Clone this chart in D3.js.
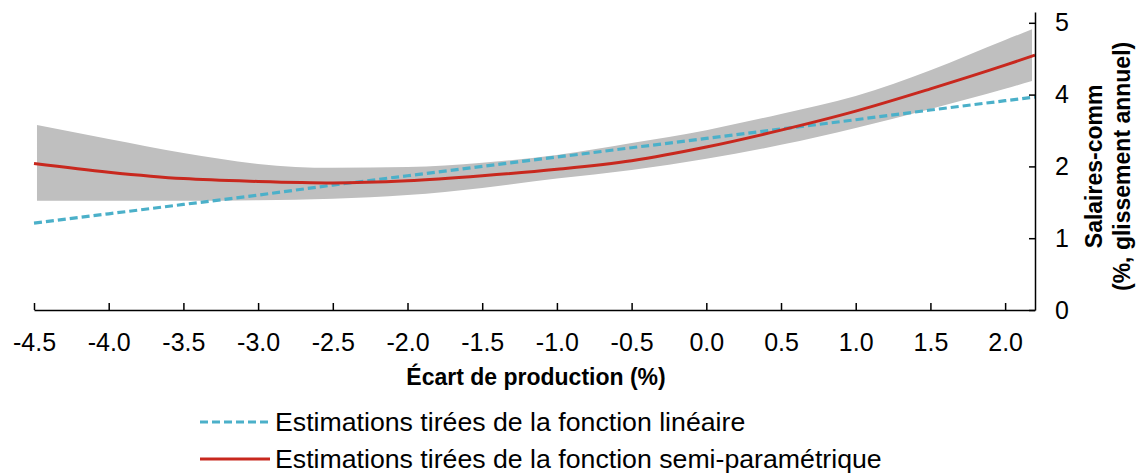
<!DOCTYPE html>
<html>
<head>
<meta charset="utf-8">
<script src="https://cdn.jsdelivr.net/npm/d3@7"></script>
<style>
  body { margin: 0; background: #fff; }
  text { font-family: "Liberation Sans", Arial, sans-serif; fill: #000; }
</style>
</head>
<body>
<svg id="chart" width="1139" height="475"></svg>
<script>
// x positions (output gap, %)
const xGrid = [-4.5, -4.0, -3.5, -3.0, -2.5, -2.0, -1.5, -1.0, -0.5, 0.0, 0.5, 1.0, 1.5, 2.0, 2.2];
// linear fit
const linearFit = [1.21, 1.34, 1.47, 1.60, 1.74, 1.87, 2.00, 2.26, 2.52, 2.78, 3.04, 3.30, 3.57, 3.83, 3.93];
// semi-parametric fit
const semiFit = [2.08, 1.92, 1.83, 1.79, 1.77, 1.80, 1.87, 1.96, 2.16, 2.54, 3.01, 3.54, 4.08, 4.41, 4.55];
// confidence band
const bandX = [-4.48, -4.0, -3.5, -3.0, -2.5, -2.0, -1.5, -1.0, -0.5, 0.0, 0.5, 1.0, 1.5, 2.0, 2.18];
const bandLow = [1.52, 1.52, 1.52, 1.53, 1.55, 1.60, 1.70, 1.83, 1.95, 2.21, 2.60, 3.07, 3.60, 4.08, 4.19];
const bandHigh = [3.15, 2.76, 2.37, 2.07, 1.98, 1.99, 2.10, 2.32, 2.65, 3.01, 3.46, 3.96, 4.34, 4.76, 4.91];

const xTicks = [-4.5, -4.0, -3.5, -3.0, -2.5, -2.0, -1.5, -1.0, -0.5, 0.0, 0.5, 1.0, 1.5, 2.0];
const yTicks = [0, 1, 2, 4, 5];
const xTitle = "Écart de production (%)";
const yTitle = ["Salaires-comm", "(%, glissement annuel)"];
const legendLabels = [
  "Estimations tirées de la fonction linéaire",
  "Estimations tirées de la fonction semi-paramétrique"
];

const red = "#c8281e", blue = "#4bb0c9", grey = "#bfbfbf";

const svg = d3.select("#chart");
const plotLeft = 34, plotRight = 1035, plotTop = 22.8, plotBottom = 310;
const step = (plotBottom - plotTop) / (yTicks.length - 1);

const x = d3.scaleLinear().domain([-4.5, 2.2]).range([plotLeft, plotRight]);
// tick labels are evenly spaced on the axis, so the scale is piecewise
const y = d3.scaleLinear()
  .domain(yTicks.concat([5.15]))
  .range(yTicks.map((d, i) => plotBottom - i * step).concat([12]));

// band
const band = bandX.map((d, i) => ({x: d, lo: bandLow[i], hi: bandHigh[i]}));
svg.append("path")
  .datum(band)
  .attr("fill", grey)
  .attr("d", d3.area().curve(d3.curveMonotoneX)
    .x(d => x(d.x)).y0(d => y(d.lo)).y1(d => y(d.hi)));

// lines
svg.append("path")
  .datum(xGrid.map((d, i) => [d, linearFit[i]]))
  .attr("fill", "none")
  .attr("stroke", blue)
  .attr("stroke-width", 3.2)
  .attr("stroke-dasharray", "8,4")
  .attr("d", d3.line().x(d => x(d[0])).y(d => y(d[1])));

svg.append("path")
  .datum(xGrid.map((d, i) => [d, semiFit[i]]))
  .attr("fill", "none")
  .attr("stroke", red)
  .attr("stroke-width", 3)
  .attr("d", d3.line().curve(d3.curveMonotoneX).x(d => x(d[0])).y(d => y(d[1])));

// x axis
const gx = svg.append("g")
  .attr("transform", `translate(0,${plotBottom})`)
  .call(d3.axisBottom(x).tickValues(xTicks).tickFormat(d => d.toFixed(1))
    .tickSizeInner(-7).tickSizeOuter(0).tickPadding(23));
gx.selectAll("text").attr("font-size", 25).attr("font-family", null);
gx.selectAll("line, path").attr("stroke", "#000").attr("stroke-width", 1.5);

// y axis (right)
const gy = svg.append("g")
  .attr("transform", `translate(${plotRight},0)`)
  .call(d3.axisRight(y).tickValues(yTicks).tickFormat(d => d)
    .tickSizeInner(-6).tickSizeOuter(0).tickPadding(20));
gy.selectAll("text").attr("font-size", 25).attr("font-family", null);
gy.selectAll("line, path").attr("stroke", "#000").attr("stroke-width", 1.5);

// titles
svg.append("text")
  .attr("x", 536).attr("y", 385)
  .attr("text-anchor", "middle")
  .attr("font-size", 23).attr("font-weight", "bold")
  .text(xTitle);

svg.selectAll(".ytitle").data(yTitle).join("text")
  .attr("class", "ytitle")
  .attr("transform", (d, i) => `translate(${1102 + i * 28},${(plotTop + plotBottom) / 2}) rotate(-90)`)
  .attr("text-anchor", "middle")
  .attr("font-size", 23).attr("font-weight", "bold")
  .text(d => d);

// legend
const legend = svg.append("g");
const items = legend.selectAll("g").data(legendLabels).join("g")
  .attr("transform", (d, i) => `translate(200,${422 + i * 37})`);
items.append("line")
  .attr("x1", 0).attr("x2", 70)
  .attr("stroke", (d, i) => i === 0 ? blue : red)
  .attr("stroke-width", 3.2)
  .attr("stroke-dasharray", (d, i) => i === 0 ? "8,4" : null);
items.append("text")
  .attr("x", 75).attr("dy", "0.35em")
  .attr("font-size", 26.7)
  .text(d => d);
</script>
</body>
</html>
